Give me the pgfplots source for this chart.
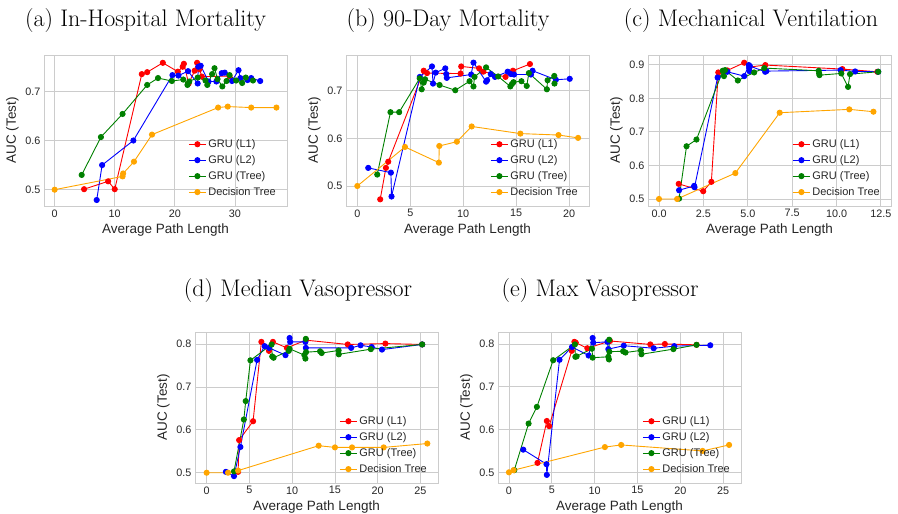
\documentclass[border=0pt]{standalone}
\usepackage{fontspec}
\usepackage{pgfplots}
\pgfplotsset{compat=1.18}
\newfontfamily\arialfont{Liberation Sans}
\definecolor{gridc}{HTML}{CCCCCC}
\definecolor{labc}{HTML}{262626}
\definecolor{dtor}{RGB}{255,165,0}
\definecolor{gtree}{RGB}{0,128,0}
\newcommand\tickfont{\arialfont\fontsize{10.8bp}{12bp}\selectfont}
\newcommand\labfont{\arialfont\fontsize{13.5bp}{15bp}\selectfont}
\newcommand\legfont{\arialfont\fontsize{11bp}{13bp}\selectfont}
\newcommand\titfont{\fontsize{24bp}{28bp}\selectfont}
\pgfplotsset{
  panel/.style={scale only axis, width=243bp, height=151bp, anchor=north west,
    grid=major, grid style={draw=gridc, line width=0.8pt},
    axis line style={draw=gridc, line width=1pt},
    major tick length=0pt,
    tick label style={font=\tickfont, text=labc},
    label style={font=\labfont, text=labc},
    xlabel={Average Path Length}, ylabel={AUC (Test)},
    /pgf/number format/assume math mode=true,
    yticklabel style={/pgf/number format/.cd, fixed, fixed zerofill, precision=1},
    legend style={draw=none, fill=none, font=\legfont, text=labc, at={(1,0)}, anchor=south east,
      xshift=-6bp, yshift=5bp, row sep=2.5bp},
    legend cell align=left,
    every axis plot/.append style={line width=0.9pt, mark=*, mark size=2.6pt},
  },
  l1/.style={color=red},
  l2/.style={color=blue},
  tr/.style={color=gtree},
  dt/.style={color=dtor},
}
\begin{document}
\begin{tikzpicture}
\useasboundingbox (0bp,0bp) rectangle (898bp,-514bp);
\node[anchor=base, font=\titfont] at (145.5bp,-26bp) {(a) In-Hospital Mortality};
\node[anchor=base, font=\titfont] at (448bp,-26bp) {(b) 90-Day Mortality};
\node[anchor=base, font=\titfont] at (751bp,-26bp) {(c) Mechanical Ventilation};
\node[anchor=base, font=\titfont] at (298bp,-296bp) {(d) Median Vasopressor};
\node[anchor=base, font=\titfont] at (600bp,-296bp) {(e) Max Vasopressor};

% (a)
\begin{axis}[panel, at={(44bp,-55bp)}, xmin=-1.77, xmax=38.66, ymin=0.4668, ymax=0.7739,
  xtick={0,10,20,30}, ytick={0.5,0.6,0.7}]
\addplot[l1] coordinates {(4.9,0.501)(8.9,0.517)(10.0,0.501)(14.5,0.735)(15.4,0.739)(18.0,0.758)(20.5,0.740)(21.3,0.750)(21.5,0.756)(22.3,0.716)(23.3,0.742)(23.7,0.758)(24.1,0.745)(24.5,0.730)(29.1,0.731)};
\addplot[l2] coordinates {(7.0,0.479)(7.9,0.550)(13.1,0.600)(19.6,0.733)(20.6,0.732)(22.2,0.741)(23.8,0.716)(23.9,0.750)(24.3,0.752)(25.6,0.720)(26.9,0.720)(27.8,0.737)(28.3,0.738)(29.5,0.721)(30.6,0.743)(30.9,0.727)(32.1,0.723)(32.7,0.727)(34.2,0.721)};
\addplot[tr] coordinates {(4.5,0.530)(7.7,0.607)(11.3,0.654)(15.4,0.713)(17.2,0.727)(19.5,0.721)(21.4,0.724)(22.1,0.713)(22.4,0.720)(23.8,0.728)(25.1,0.722)(25.4,0.713)(26.2,0.735)(26.6,0.747)(27.1,0.725)(27.9,0.710)(28.6,0.721)(29.1,0.733)(30.2,0.722)(31.2,0.717)(31.8,0.728)(33.0,0.722)};
\addplot[dt] coordinates {(0,0.500)(11.3,0.527)(11.4,0.533)(13.2,0.557)(16.2,0.612)(27.2,0.667)(28.8,0.669)(32.7,0.667)(36.9,0.667)};
\legend{GRU (L1),GRU (L2),GRU (Tree),Decision Tree}
\end{axis}

% (b)
\begin{axis}[panel, at={(346bp,-55bp)}, xmin=-1.07, xmax=21.88, ymin=0.458, ymax=0.775,
  xtick={0,5,10,15,20}, ytick={0.5,0.6,0.7}]
\addplot[l1] coordinates {(2.16,0.472)(2.70,0.538)(2.92,0.551)(6.27,0.742)(6.58,0.737)(9.75,0.736)(9.81,0.751)(11.5,0.747)(11.9,0.740)(14.0,0.729)(14.7,0.742)(16.3,0.756)};
\addplot[l2] coordinates {(1.03,0.538)(3.17,0.528)(3.23,0.478)(5.9,0.729)(7.05,0.751)(7.15,0.715)(7.40,0.738)(8.31,0.747)(8.4,0.735)(8.45,0.727)(10.75,0.734)(10.97,0.759)(12.16,0.719)(12.26,0.722)(12.6,0.735)(13.0,0.729)(14.2,0.740)(14.5,0.735)(14.8,0.734)(16.4,0.734)(16.55,0.742)(18.75,0.723)(20.06,0.725)};
\addplot[tr] coordinates {(1.88,0.524)(3.13,0.655)(3.95,0.655)(5.89,0.726)(6.08,0.703)(6.27,0.717)(6.4,0.724)(7.77,0.712)(9.25,0.701)(10.6,0.720)(10.97,0.709)(11.07,0.729)(12.16,0.749)(13.3,0.730)(14.45,0.709)(14.6,0.714)(14.75,0.718)(15.5,0.720)(16.0,0.710)(16.2,0.737)(17.9,0.703)(17.97,0.722)(18.6,0.731)(18.62,0.715)};
\addplot[dt] coordinates {(0,0.500)(4.5,0.582)(7.7,0.549)(7.74,0.584)(9.4,0.593)(10.8,0.625)(15.4,0.610)(19.0,0.607)(20.85,0.601)};
\legend{GRU (L1),GRU (L2),GRU (Tree),Decision Tree}
\end{axis}

% (c)
\begin{axis}[panel, at={(648bp,-55bp)}, xmin=-0.62, xmax=13.07, ymin=0.479, ymax=0.929,
  xtick={0,2.5,5,7.5,10,12.5}, ytick={0.5,0.6,0.7,0.8,0.9},
  xticklabel style={/pgf/number format/.cd, fixed, fixed zerofill, precision=1}]
\addplot[l1] coordinates {(1.11,0.545)(2.49,0.523)(2.95,0.551)(3.34,0.877)(3.85,0.883)(4.8,0.906)(5.1,0.893)(5.99,0.899)(10.33,0.887)(12.3,0.879)};
\addplot[l2] coordinates {(1.13,0.526)(1.98,0.539)(2.0,0.535)(3.30,0.862)(3.85,0.879)(4.8,0.866)(5.06,0.899)(5.08,0.890)(5.1,0.881)(5.12,0.896)(5.98,0.879)(6.05,0.881)(10.23,0.884)(11.05,0.880)(12.35,0.879)};
\addplot[tr] coordinates {(1.13,0.501)(1.55,0.657)(2.11,0.677)(3.59,0.882)(3.66,0.866)(3.72,0.884)(4.44,0.853)(5.36,0.877)(5.93,0.890)(9.0,0.882)(9.02,0.874)(9.04,0.869)(10.27,0.874)(10.65,0.834)(10.76,0.872)(12.35,0.879)};
\addplot[dt] coordinates {(0.0,0.500)(1.02,0.500)(4.3,0.577)(6.8,0.757)(10.72,0.767)(12.08,0.760)};
\legend{GRU (L1),GRU (L2),GRU (Tree),Decision Tree}
\end{axis}

% (d)
\begin{axis}[panel, at={(195bp,-332bp)}, xmin=-1.36, xmax=27.05, ymin=0.476, ymax=0.828,
  xtick={0,5,10,15,20,25}, ytick={0.5,0.6,0.7,0.8}]
\addplot[l1] coordinates {(3.68,0.502)(3.8,0.576)(5.43,0.620)(6.40,0.805)(7.29,0.784)(7.75,0.805)(9.38,0.791)(11.6,0.809)(16.5,0.799)(20.9,0.801)(25.2,0.799)};
\addplot[l2] coordinates {(2.25,0.502)(3.2,0.492)(3.95,0.560)(5.9,0.763)(6.78,0.795)(7.3,0.791)(9.22,0.774)(9.7,0.814)(9.77,0.805)(11.55,0.805)(11.6,0.791)(16.9,0.791)(18.0,0.797)(19.3,0.793)(20.5,0.787)(25.2,0.799)};
\addplot[tr] coordinates {(3.2,0.503)(4.35,0.624)(4.57,0.667)(5.12,0.762)(7.6,0.799)(7.67,0.771)(7.83,0.768)(9.6,0.784)(9.69,0.789)(11.43,0.774)(11.55,0.766)(11.6,0.812)(11.62,0.781)(13.26,0.783)(13.45,0.779)(15.43,0.785)(15.45,0.776)(19.2,0.788)(25.2,0.799)};
\addplot[dt] coordinates {(0,0.500)(2.5,0.500)(3.68,0.505)(13.1,0.563)(15.0,0.559)(17.0,0.559)(20.7,0.559)(25.8,0.568)};
\legend{GRU (L1),GRU (L2),GRU (Tree),Decision Tree}
\end{axis}

% (e)
\begin{axis}[panel, at={(498bp,-332bp)}, xmin=-1.28, xmax=27.09, ymin=0.475, ymax=0.828,
  xtick={0,5,10,15,20,25}, ytick={0.5,0.6,0.7,0.8}]
\addplot[l1] coordinates {(3.33,0.522)(4.42,0.620)(4.69,0.608)(7.33,0.784)(7.64,0.805)(7.8,0.803)(9.15,0.790)(11.8,0.807)(16.5,0.799)(18.2,0.800)(21.9,0.798)};
\addplot[l2] coordinates {(1.67,0.553)(4.38,0.519)(4.42,0.494)(5.9,0.763)(7.36,0.793)(9.3,0.773)(9.77,0.814)(9.84,0.803)(11.5,0.805)(11.6,0.788)(13.4,0.796)(16.9,0.790)(19.3,0.795)(23.5,0.797)};
\addplot[tr] coordinates {(0.62,0.505)(2.29,0.614)(3.26,0.653)(5.16,0.762)(7.7,0.799)(7.75,0.770)(7.9,0.771)(9.69,0.789)(9.77,0.768)(11.6,0.770)(11.67,0.764)(11.7,0.810)(11.72,0.782)(13.33,0.783)(13.6,0.780)(15.4,0.785)(15.47,0.776)(19.2,0.788)(21.9,0.798)};
\addplot[dt] coordinates {(0,0.500)(0.54,0.505)(11.2,0.559)(13.1,0.564)(22.6,0.550)(25.7,0.564)};
\legend{GRU (L1),GRU (L2),GRU (Tree),Decision Tree}
\end{axis}
\end{tikzpicture}
\end{document}
